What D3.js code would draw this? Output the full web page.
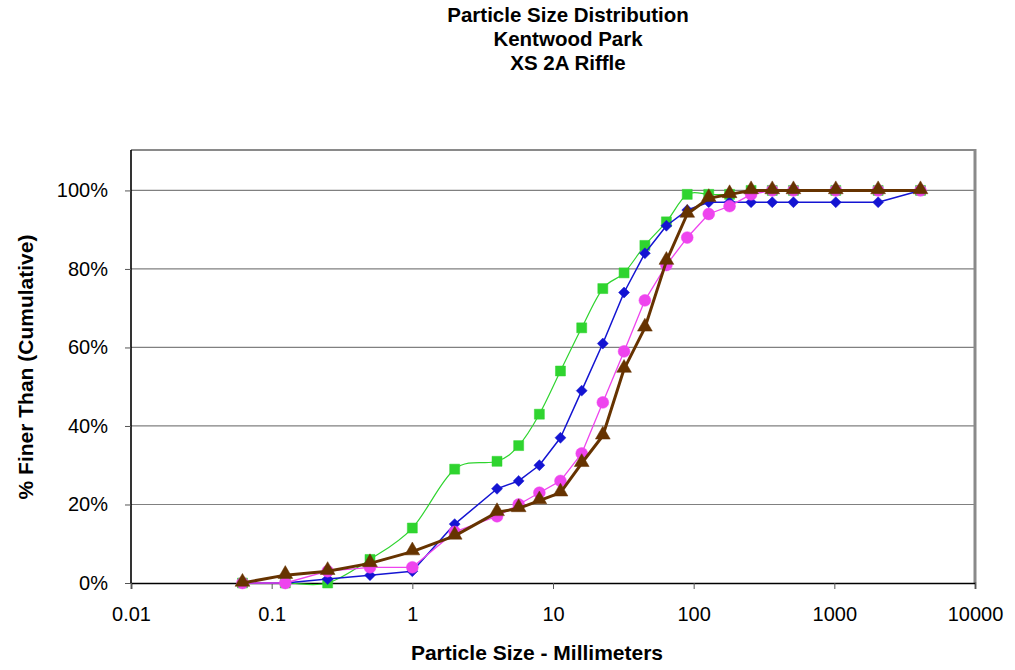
<!DOCTYPE html>
<html>
<head>
<meta charset="utf-8">
<script src="https://cdn.jsdelivr.net/npm/d3@7"></script>
<style>
  html, body { margin: 0; padding: 0; background: #fff; }
  svg { display: block; font-family: "Liberation Sans", Arial, sans-serif; }
</style>
</head>
<body>
<svg id="chart" width="1015" height="670"></svg>
<script>
// ---- data ----
const titleLines = ["Particle Size Distribution", "Kentwood Park", "XS 2A Riffle"];
const xTitle = "Particle Size - Millimeters";
const yTitle = "% Finer Than (Cumulative)";
const sizes = [0.062, 0.125, 0.25, 0.5, 1, 2, 4, 5.7, 8, 11.3, 16, 22.6, 32, 45, 64, 90, 128, 180, 256, 362, 512, 1024, 2048, 4096];
const greenSeries   = [0, 0, 0, 6, 14, 29, 31, 35, 43, 54, 65, 75, 79, 86, 92, 99, 99, 99, 100, 100, 100, 100, 100, 100];
const blueSeries    = [0, 0, 1, 2, 3, 15, 24, 26, 30, 37, 49, 61, 74, 84, 91, 95, 97, 97, 97, 97, 97, 97, 97, 100];
const magentaSeries = [0, 0, 3, 4, 4, 13, 17, 20, 23, 26, 33, 46, 59, 72, 81, 88, 94, 96, 99, 100, 100, 100, 100, 100];
const brownSeries   = [0, 2, 3, 5, 8, 12, 18, 19, 21, 23, 30.5, 37.5, 54.5, 65, 82, 94, 98, 99, 100, 100, 100, 100, 100, 100];
const xTicks = [0.01, 0.1, 1, 10, 100, 1000, 10000];
const xTickLabels = ["0.01", "0.1", "1", "10", "100", "1000", "10000"];
const yTicks = [0, 20, 40, 60, 80, 100];

const series = [
  { values: greenSeries,   color: "#2fd42f", width: 1.2, marker: "square",  smooth: true },
  { values: blueSeries,    color: "#1414d2", width: 1.5, marker: "diamond", smooth: false },
  { values: magentaSeries, color: "#ee44ee", width: 1.3, marker: "circle",  smooth: false },
  { values: brownSeries,   color: "#663300", width: 3,   marker: "triangle", smooth: false }
];

// ---- layout ----
const svg = d3.select("#chart");
const L = 131, R = 975, T = 150, B = 583;
const x = d3.scaleLog().domain([0.01, 10000]).range([L, R]);
const y = d3.scaleLinear().domain([0, 110.3]).range([B, T]);

// title
svg.append("g").selectAll("text").data(titleLines).join("text")
  .attr("x", 568).attr("y", (d, i) => 22 + i * 24)
  .attr("text-anchor", "middle").attr("font-size", 20.5).attr("font-weight", "bold")
  .text(d => d);

// gridlines
svg.append("g").selectAll("line").data(yTicks.filter(d => d > 0)).join("line")
  .attr("x1", L).attr("x2", R).attr("y1", d => y(d)).attr("y2", d => y(d))
  .attr("stroke", "#808080").attr("stroke-width", 1.2);

// plot frame (top/right gray)
svg.append("line").attr("x1", L).attr("x2", R + 1).attr("y1", T).attr("y2", T)
  .attr("stroke", "#8a8a8a").attr("stroke-width", 2);
svg.append("line").attr("x1", R).attr("x2", R).attr("y1", T - 1).attr("y2", B)
  .attr("stroke", "#8a8a8a").attr("stroke-width", 3);

// axes
const xAxis = d3.axisBottom(x).tickValues(xTicks).tickSize(6).tickPadding(18)
  .tickFormat((d, i) => xTickLabels[i]);
const gx = svg.append("g").attr("transform", `translate(0,${B})`).call(xAxis);
gx.select(".domain").attr("stroke", "#000").attr("stroke-width", 1.6);
gx.selectAll(".tick line").attr("stroke", "#555").attr("stroke-width", 1);
gx.selectAll(".tick text").attr("font-size", 20).attr("fill", "#000")
  .attr("font-family", "Liberation Sans, Arial, sans-serif");

const yAxis = d3.axisLeft(y).tickValues(yTicks).tickSize(6).tickPadding(17)
  .tickFormat(d => d + "%");
const gy = svg.append("g").attr("transform", `translate(${L},0)`).call(yAxis);
gy.select(".domain").attr("stroke", "#000").attr("stroke-width", 1.6)
  .attr("d", `M0,${T}V${B}`);
gy.selectAll(".tick line").attr("stroke", "#555").attr("stroke-width", 1);
gy.selectAll(".tick text").attr("font-size", 20).attr("fill", "#000")
  .attr("font-family", "Liberation Sans, Arial, sans-serif");

// axis titles
svg.append("text").attr("x", 537).attr("y", 660).attr("text-anchor", "middle")
  .attr("font-size", 21).attr("font-weight", "bold").text(xTitle);
svg.append("text").attr("transform", "translate(33,367) rotate(-90)")
  .attr("text-anchor", "middle").attr("font-size", 21).attr("font-weight", "bold").text(yTitle);

// series
const squareDiamond = {
  draw(ctx, size) {
    const r = Math.sqrt(size / 2);
    ctx.moveTo(0, -r); ctx.lineTo(r, 0); ctx.lineTo(0, r); ctx.lineTo(-r, 0); ctx.closePath();
  }
};
const symbolFor = {
  square: d3.symbol().type(d3.symbolSquare).size(100),
  diamond: d3.symbol().type(squareDiamond).size(60),
  circle: d3.symbol().type(d3.symbolCircle).size(110),
  triangle: d3.symbol().type(d3.symbolTriangle).size(95)
};

series.forEach(s => {
  const pts = sizes.map((v, i) => [v, s.values[i]]);
  const line = d3.line().x(d => x(d[0])).y(d => y(d[1]))
    .curve(s.smooth ? d3.curveCatmullRom.alpha(0) : d3.curveLinear);
  svg.append("path").attr("d", line(pts)).attr("fill", "none")
    .attr("stroke", s.color).attr("stroke-width", s.width).attr("stroke-linejoin", "round");
  svg.append("g").selectAll("path").data(pts).join("path")
    .attr("d", symbolFor[s.marker]())
    .attr("transform", d => `translate(${x(d[0])},${y(d[1]) + (s.marker === "triangle" ? -1 : 0)})`)
    .attr("fill", s.color).attr("stroke", s.color).attr("stroke-width", 0.5);
});
</script>
</body>
</html>
